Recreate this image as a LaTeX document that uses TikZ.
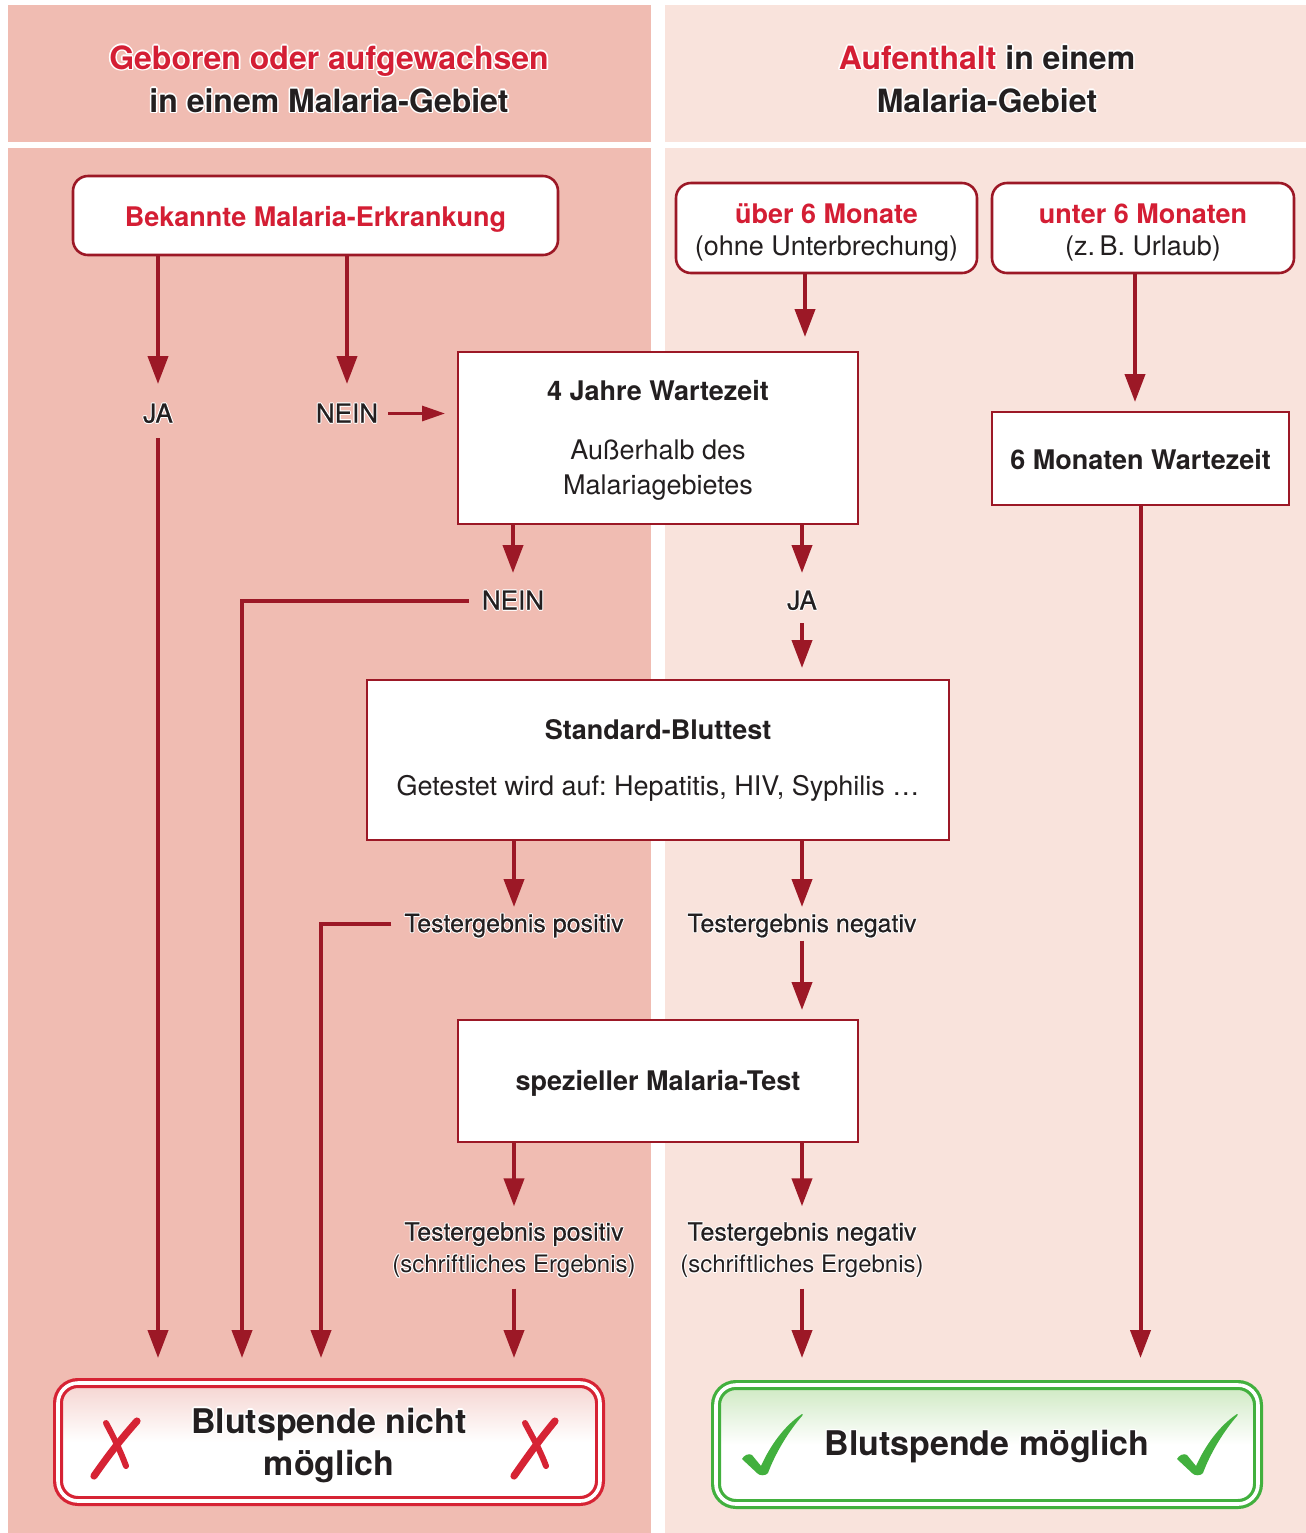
\documentclass[tikz,border=0pt]{standalone}
\usepackage{fontspec}
\setmainfont{TeX Gyre Heros}
\newfontfamily\medfont[FakeBold=0.6]{TeX Gyre Heros}
\usetikzlibrary{arrows.meta}
\frenchspacing
\definecolor{bgL}{RGB}{240,188,178}
\definecolor{bgR}{RGB}{249,227,220}
\definecolor{dred}{RGB}{156,24,38}
\definecolor{tred}{RGB}{212,30,52}
\definecolor{tblk}{RGB}{35,31,32}
\definecolor{xred}{RGB}{214,35,52}
\definecolor{gr}{RGB}{66,176,62}
\definecolor{pinktop}{RGB}{245,212,208}
\definecolor{greentop}{RGB}{206,233,194}
\newif\ifhaloon
\newlength\hw
\setlength\hw{0.5pt}
\newcommand\hred[1]{\ifhaloon#1\else\textcolor{tred}{#1}\fi}
\newcommand\hcp[3]{\rlap{\hspace*{#1}\raisebox{#2}{#3}}}
\newcommand\halo[1]{\leavevmode{\haloontrue\color{white}%
 \hcp{\hw}{0pt}{#1}\hcp{-\hw}{0pt}{#1}\hcp{0pt}{\hw}{#1}\hcp{0pt}{-\hw}{#1}%
 \hcp{0.7\hw}{0.7\hw}{#1}\hcp{-0.7\hw}{0.7\hw}{#1}\hcp{0.7\hw}{-0.7\hw}{#1}\hcp{-0.7\hw}{-0.7\hw}{#1}}#1}
\newcommand\tstrut[1]{\rule{0pt}{#1}}
\begin{document}
\begin{tikzpicture}[x=0.5pt,y=-0.5pt,
  box/.style={draw=dred, line width=1.3pt, fill=white, inner sep=0pt, outer sep=0pt, align=center, text=tblk, font=\fontsize{13.5}{16}\selectfont},
  rbox/.style={box, rounded corners=7.5pt},
  hdr/.style={inner sep=0pt, outer sep=0pt, align=center, text=tblk, font=\bfseries\fontsize{16}{21.5}\selectfont\setlength\hw{0.8pt}},
  lab/.style={inner sep=0pt, outer sep=0pt, text=tblk, font=\medfont\fontsize{13}{16}\selectfont, text height=9.5pt, text depth=0.5pt, anchor=base},
  tlab/.style={inner sep=0pt, outer sep=0pt, text=tblk, font=\medfont\fontsize{12.5}{16}\selectfont, text height=9pt, text depth=0.5pt, anchor=base},
  tlab2/.style={inner sep=0pt, outer sep=0pt, text=tblk, align=center, font=\fontsize{12.5}{16}\selectfont},
  arr/.style={draw=dred, line width=2pt, -{Triangle[width=10pt,length=14pt]}},
  arrs/.style={draw=dred, line width=1.5pt, -{Triangle[width=7.5pt,length=11.5pt]}},
  res/.style={line width=1.6pt, double distance=1.8pt, rounded corners=10pt, minimum width=271pt, inner sep=0pt, outer sep=0pt, align=center, text=tblk, font=\bfseries\fontsize{17}{21}\selectfont\setlength\hw{0.7pt}},
  xmark/.style={draw=xred, line cap=round},
]
\useasboundingbox (0,0) rectangle (1306,1533);
% backgrounds
\fill[bgL] (8,5) rectangle (651,142);
\fill[bgL] (8,148) rectangle (651,1533);
\fill[bgR] (665,5) rectangle (1306,142);
\fill[bgR] (665,148) rectangle (1306,1533);
% headers
\node[hdr] (hL) at (329,79) {\halo{\hred{Geboren oder aufgewachsen}}\\\halo{in einem Malaria-Gebiet}};
\node[hdr] (hR) at (987,79) {\halo{\hred{Aufenthalt} in einem}\\\halo{Malaria-Gebiet}};
% boxes
\node[rbox, minimum width=242.5pt, minimum height=39.5pt, text=tred, font=\bfseries\fontsize{13.5}{16}\selectfont] (bek) at (315.5,215.5) {\tstrut{14pt}Bekannte Malaria-Erkrankung};
\node[rbox, minimum width=150.5pt, minimum height=45pt] (ueber) at (826.5,228) {\tstrut{14pt}\textbf{\textcolor{tred}{über 6 Monate}}\\(ohne Unterbrechung)};
\node[rbox, minimum width=151pt, minimum height=45pt] (unter) at (1143,228) {\tstrut{14pt}\textbf{\textcolor{tred}{unter 6 Monaten}}\\(z.\,B. Urlaub)};
\node[box, minimum width=200pt, minimum height=86pt, font=\fontsize{13.5}{17.5}\selectfont] (jahre) at (658,438) {\tstrut{12.5pt}\textbf{4 Jahre Wartezeit}\\[12pt]Außerhalb des\\Malariagebietes};
\node[box, minimum width=148.5pt, minimum height=46.5pt, font=\bfseries\fontsize{13.5}{16}\selectfont] (mon6) at (1140.5,458.5) {\tstrut{11pt}6 Monaten Wartezeit};
\node[box, minimum width=291pt, minimum height=80pt] (std) at (658,760) {\textbf{Standard-Bluttest}\\[12pt]Getestet wird auf: Hepatitis, HIV, Syphilis …};
\node[box, minimum width=200pt, minimum height=61pt, font=\bfseries\fontsize{13.5}{16}\selectfont] (spez) at (658,1081) {\tstrut{12pt}spezieller Malaria-Test};
% results
\node[res, draw=xred, double=white, minimum height=59pt, top color=pinktop, bottom color=white, middle color=white] (nicht) at (329,1442) {\tstrut{16.5pt}\halo{Blutspende nicht}\\\halo{möglich}};
\node[res, draw=gr, double=white, minimum height=59.5pt, top color=greentop, bottom color=white, middle color=white] (mogl) at (987,1444.5) {\tstrut{15.5pt}\halo{Blutspende möglich}};
% labels
\node[lab] (ja1) at (158,422.5) {\halo{JA}};
\node[lab] (nein1) at (347,422.5) {\halo{NEIN}};
\node[lab] (nein2) at (513,609.5) {\halo{NEIN}};
\node[lab] (ja2) at (802,609.5) {\halo{JA}};
\node[tlab] (pos1) at (514,932) {\halo{Testergebnis positiv}};
\node[tlab] (neg1) at (802,932) {\halo{Testergebnis negativ}};
\node[tlab2] (pos2) at (514,1250) {\halo{\medfont Testergebnis positiv}\\\halo{\fontsize{12}{16}\selectfont(schriftliches Ergebnis)}};
\node[tlab2] (neg2) at (802,1250) {\halo{\medfont Testergebnis negativ}\\\halo{\fontsize{12}{16}\selectfont(schriftliches Ergebnis)}};
\coordinate (laneA) at (242,1533);
\coordinate (laneB) at (321,1533);
% connectors
\draw[arr, shorten >=9.75pt] (bek.south -| ja1) -- (ja1.north);
\draw[arr, shorten >=9.75pt] (bek.south -| nein1) -- (nein1.north);
\draw[arr, shorten <=7.25pt, shorten >=12.5pt] (ja1.south) -- (ja1.south |- nicht.north);
\draw[arrs, shorten <=5pt, shorten >=6.5pt] (nein1.east) -- (nein1.east -| jahre.west);
\draw[arr, shorten >=8.75pt] (jahre.south -| nein2) -- (nein2.north);
\draw[arr, shorten >=8.75pt] (jahre.south -| ja2) -- (ja2.north);
\draw[arr, shorten <=6.5pt, shorten >=12.5pt] (nein2.west) -| (nicht.north -| laneA);
\draw[arr, shorten <=6.25pt, shorten >=6pt] (ja2.south) -- (ja2.south |- std.north);
\draw[arr, shorten >=3.5pt] (std.south -| pos1) -- (pos1.north);
\draw[arr, shorten >=3.5pt] (std.south -| neg1) -- (neg1.north);
\draw[arr, shorten <=6.5pt, shorten >=12.5pt] (pos1.west) -| (nicht.north -| laneB);
\draw[arr, shorten <=3.75pt, shorten >=5pt] (neg1.south) -- (neg1.south |- spez.north);
\draw[arr, shorten >=7.5pt] (spez.south -| pos2) -- (pos2.north);
\draw[arr, shorten >=7.5pt] (spez.south -| neg2) -- (neg2.north);
\draw[arr, shorten <=5pt, shorten >=12.5pt] (pos2.south) -- (pos2.south |- nicht.north);
\draw[arr, shorten <=5pt, shorten >=13.5pt] (neg2.south) -- (neg2.south |- mogl.north);
\draw[arr, shorten >=7.5pt] ([xshift=-10.75pt]ueber.south) -- ([xshift=-10.75pt]ueber.south |- jahre.north);
\draw[arr, shorten >=5pt] ([xshift=-4pt]unter.south) -- ([xshift=-4pt]unter.south |- mon6.north);
\draw[arr, shorten >=13.5pt] (mon6.south) -- (mon6.south |- mogl.north);
% X marks
\draw[xmark, line width=3.6pt] (94,1476) .. controls (110,1453) and (122,1438) .. (137,1421);
\draw[xmark, line width=3pt] (106,1423) .. controls (114,1438) and (120,1450) .. (126,1466);
\draw[xmark, line width=3.6pt] (514,1476) .. controls (530,1453) and (541,1438) .. (555,1421);
\draw[xmark, line width=3pt] (525,1423) .. controls (533,1438) and (540,1450) .. (546,1466);
% check marks
\foreach \cx in {762,1197} {
\begin{scope}[shift={(\cx,1474)}]
\fill[gr] (-20,-15) .. controls (-18,-19) and (-13,-21) .. (-10,-19) -- (-1,-8) .. controls (8,-28) and (22,-48) .. (40,-60) .. controls (41,-60) and (41,-59) .. (40,-58) .. controls (26,-42) and (13,-20) .. (6,-1) .. controls (4,2) and (-3,2) .. (-5,-1) -- cycle;
\end{scope}
}
\end{tikzpicture}
\end{document}
